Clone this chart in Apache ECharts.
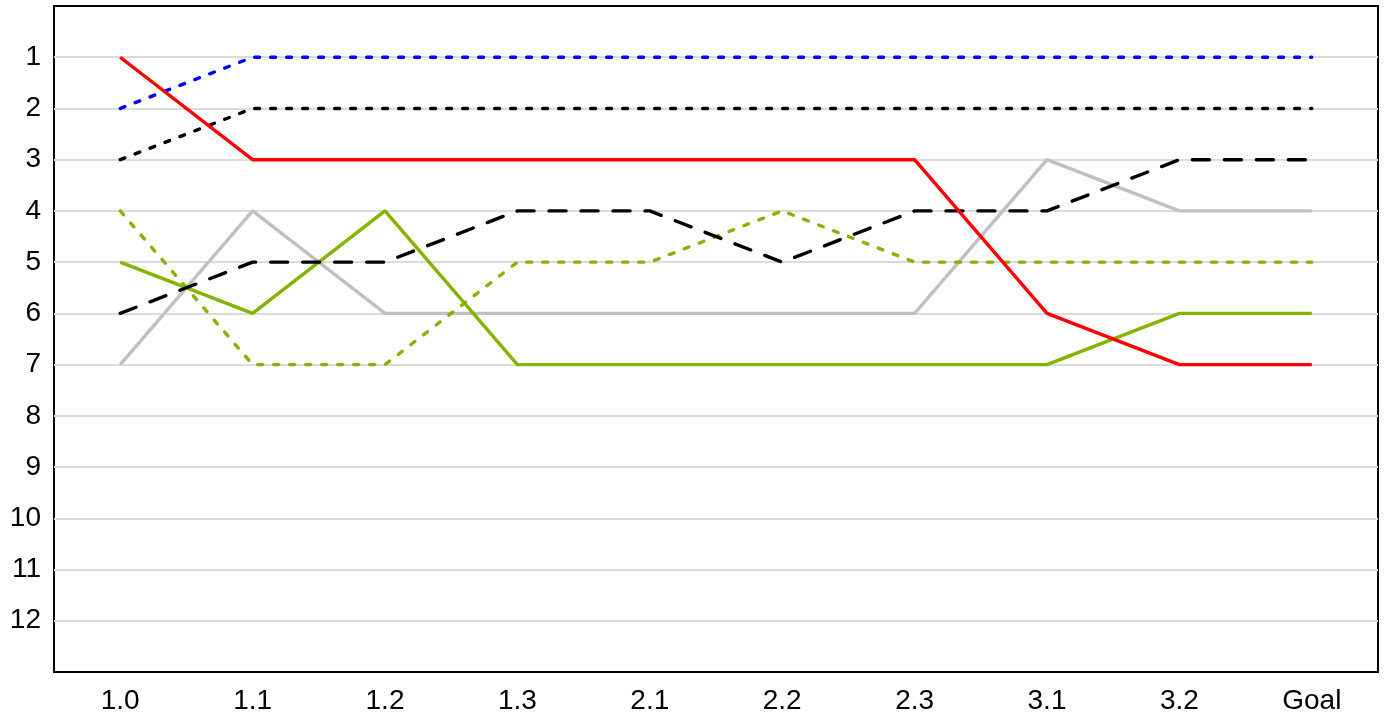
<html lang="en">
<head>
    <meta charset="UTF-8">
    <title>Rank chart</title>
    <script src="https://cdn.jsdelivr.net/npm/echarts@6/dist/echarts.min.js"></script>
</head>
<style>
    html, body { margin: 0; padding: 0; background: #fff; }
    #container { width: 1384px; height: 724px; }
</style>
<body>
<div id="container"></div>
<script>
    // categories and ranks
    var categories = ['1.0', '1.1', '1.2', '1.3', '2.1', '2.2', '2.3', '3.1', '3.2', 'Goal'];
    var blueDotted = [2, 1, 1, 1, 1, 1, 1, 1, 1, 1];
    var blackDotted = [3, 2, 2, 2, 2, 2, 2, 2, 2, 2];
    var redSolid = [1, 3, 3, 3, 3, 3, 3, 6, 7, 7];
    var blackDashed = [6, 5, 5, 4, 4, 5, 4, 4, 3, 3];
    var graySolid = [7, 4, 6, 6, 6, 6, 6, 3, 4, 4];
    var greenDotted = [4, 7, 7, 5, 5, 4, 5, 5, 5, 5];
    var greenSolid = [5, 6, 4, 7, 7, 7, 7, 7, 6, 6];

    var green = '#84b300';

    var chart = echarts.init(document.getElementById('container'));

    // grid lines: none on the frame edges (0 and 13)
    var splitColors = [];
    for (var i = 0; i <= 13; i++) {
        splitColors.push(i === 0 || i === 13 ? 'rgba(0,0,0,0)' : '#dcdcdc');
    }

    function line(data, color, type) {
        return {
            type: 'line',
            data: data,
            symbol: 'none',
            animation: false,
            lineStyle: {
                color: color,
                width: 3.4,
                type: type,
                cap: type === 'solid' ? 'butt' : 'round'
            }
        };
    }

    var option = {
        animation: false,
        textStyle: { fontFamily: 'Liberation Sans, Arial, sans-serif' },
        grid: {
            left: 54,
            right: 6,
            top: 6,
            bottom: 52,
            show: true,
            borderColor: '#000',
            borderWidth: 2
        },
        xAxis: {
            type: 'category',
            data: categories,
            boundaryGap: true,
            axisLine: { show: false },
            axisTick: { show: false },
            axisLabel: {
                color: '#000',
                fontSize: 28,
                margin: 15
            },
            splitLine: { show: false }
        },
        yAxis: {
            type: 'value',
            inverse: true,
            min: 0,
            max: 13,
            interval: 1,
            axisLine: { show: false },
            axisTick: { show: false },
            axisLabel: {
                color: '#000',
                fontSize: 28,
                margin: 13,
                formatter: function (v) {
                    return (v === 0 || v === 13) ? '' : String(v);
                }
            },
            splitLine: {
                show: true,
                lineStyle: { color: splitColors, width: 2 }
            }
        },
        series: [
            line(graySolid, '#c0c0c0', 'solid'),
            line(greenSolid, green, 'solid'),
            line(greenDotted, green, [5, 11]),
            line(blackDashed, '#000', [17, 15]),
            line(blackDotted, '#000', [5, 11]),
            line(blueDotted, '#0000ff', [5, 11]),
            line(redSolid, '#ff0000', 'solid')
        ]
    };

    chart.setOption(option);
</script>
</body>
</html>
